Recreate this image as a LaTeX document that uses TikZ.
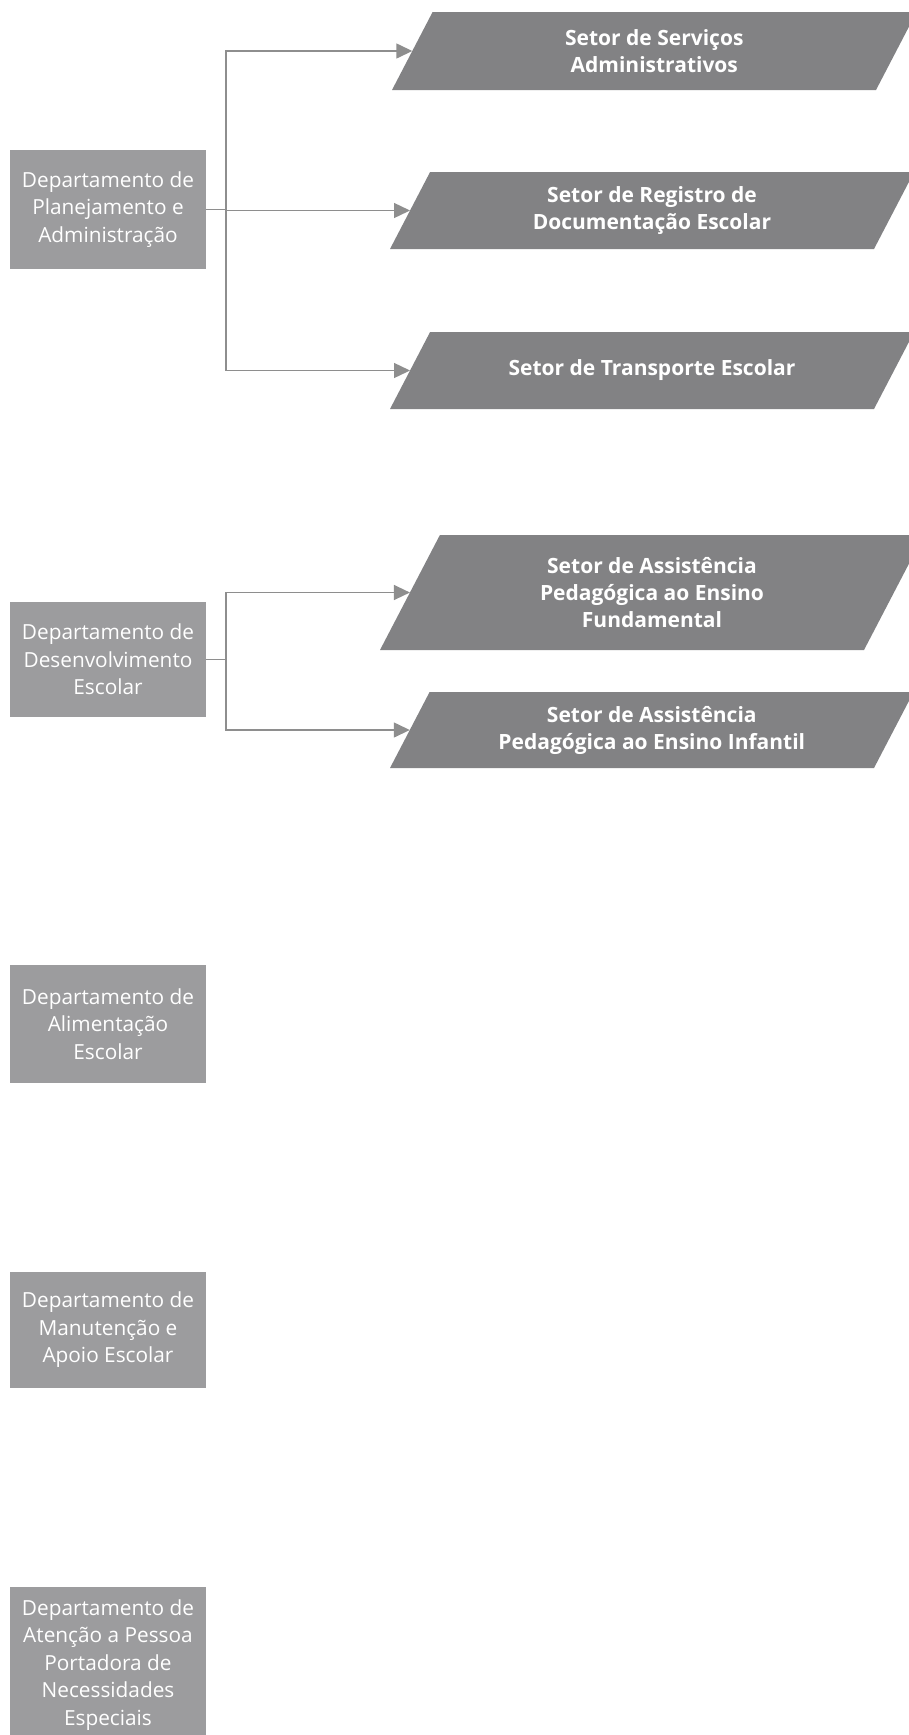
\documentclass[tikz,border=0pt]{standalone}
\usepackage{fontspec}
\setmainfont{Open Sans}
\usetikzlibrary{arrows.meta}
\definecolor{boxgray}{HTML}{9C9C9E}
\definecolor{paragray}{HTML}{828284}
\definecolor{linegray}{HTML}{8E8E8E}
\tikzset{
  dept/.style={fill=boxgray, text=white, align=center, inner sep=0pt, outer sep=0pt,
    minimum width=196pt, font=\fontsize{20.8}{27.5}\selectfont},
  sectorfill/.style={fill=paragray},
  sector/.style={text=white, align=center, inner sep=0pt,
    font=\bfseries\fontsize{21}{27}\selectfont},
  link/.style={draw=linegray, line width=1.4pt},
  conn/.style={link, -{Triangle[length=16pt,width=15pt]}}
}
\begin{document}
\begin{tikzpicture}[x=1pt,y=-1pt]
\useasboundingbox (0,0) rectangle (908,1735);
\fill[white] (0,0) rectangle (908,1735);

% departments
\node[dept, minimum height=119pt] (d1) at (108,209.5) {Departamento de\\Planejamento e\\Administração};
\node[dept, minimum height=115pt] (d2) at (108,659.5) {Departamento de\\Desenvolvimento\\Escolar};
\node[dept, minimum height=118pt] (d3) at (108,1024) {Departamento de\\Alimentação\\Escolar};
\node[dept, minimum height=116pt] (d4) at (108,1330) {Departamento de\\Manutenção e\\Apoio Escolar};
\node[dept, minimum height=156pt] (d5) at (108,1665) {Departamento de\\Atenção a Pessoa\\Portadora de\\Necessidades\\Especiais};

% sector parallelograms
\fill[sectorfill] (392,90) -- (876,90) -- (916.6,12) -- (432.6,12) -- cycle;
\fill[sectorfill] (390,249) -- (874,249) -- (914.1,172) -- (430.1,172) -- cycle;
\fill[sectorfill] (390,409) -- (874,409) -- (914.1,332) -- (430.1,332) -- cycle;
\fill[sectorfill] (380,650) -- (864,650) -- (923.9,535) -- (439.9,535) -- cycle;
\fill[sectorfill] (390,768) -- (874,768) -- (913.6,692) -- (429.6,692) -- cycle;

\node[sector] (s1) at (654.3,51) {Setor de Serviços\\Administrativos};
\node[sector] (s2) at (652,210.5) {Setor de Registro de\\Documentação Escolar};
\node[sector] (s3) at (652,370.5) {Setor de Transporte Escolar};
\node[sector] (s4) at (652,592.5) {Setor de Assistência\\Pedagógica ao Ensino\\Fundamental};
\node[sector] (s5) at (651.8,730) {Setor de Assistência\\Pedagógica ao Ensino Infantil};

% left edges of the sectors (arrow ends)
\coordinate (s1w) at (412.3,51);
\coordinate (s2w) at (410.0,210.5);
\coordinate (s3w) at (410.0,370.5);
\coordinate (s4w) at (409.9,592.5);
\coordinate (s5w) at (409.8,730);

% connectors
\coordinate (j1) at (226,209.5);
\coordinate (j2) at (226,659.5);
\draw[link] (d1.east) -- (j1);
\draw[conn] (j1) |- (s1w);
\draw[conn] (j1) |- (s2w);
\draw[conn] (j1) |- (s3w);
\draw[link] (d2.east) -- (j2);
\draw[conn] (j2) |- (s4w);
\draw[conn] (j2) |- (s5w);
\end{tikzpicture}
\end{document}
